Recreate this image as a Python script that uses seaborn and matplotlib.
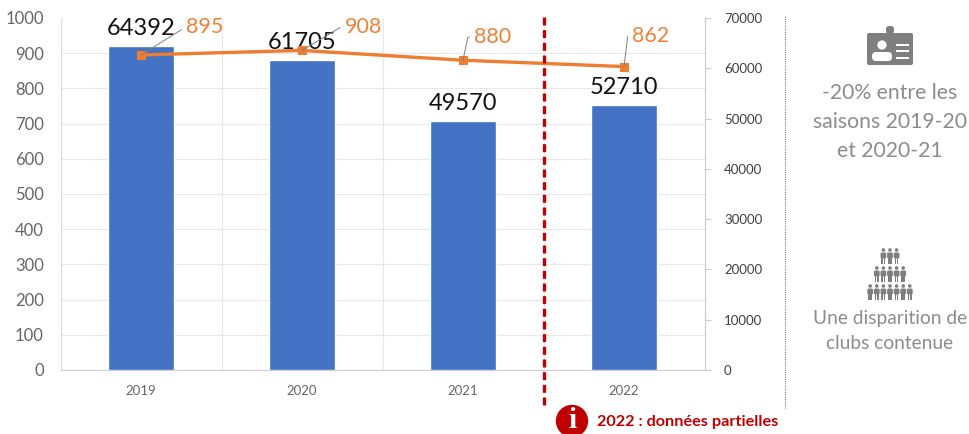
import matplotlib
matplotlib.use("Agg")
import matplotlib.pyplot as plt
import seaborn as sns
from matplotlib.patches import Circle, FancyBboxPatch, Rectangle
from matplotlib.ticker import MultipleLocator

sns.set_theme(style="white")
plt.rcParams['font.family'] = ['Lato', 'DejaVu Sans']

years = ["2019", "2020", "2021", "2022"]
licences = [64392, 61705, 49570, 52710]
clubs = [895, 908, 880, 862]

BLUE = "#4472C4"
ORANGE = "#ED7D31"
RED = "#C00000"
GREY = "#7F7F7F"
TEXT_GREY = "#8C8C8C"
GRID = "#E8E8E8"

W, H = 969, 434
fig = plt.figure(figsize=(W / 100, H / 100), dpi=100)
ax = fig.add_axes([60.5 / W, 1 - 370 / H, 644 / W, 352 / H])

# bars are read on the right axis
sns.barplot(x=years, y=licences, color=BLUE, saturation=1, width=0.41, ax=ax, zorder=3)
ax.set_xlim(-0.5, 3.5)
ax.set_ylim(0, 70000)
ax.set_yticks(range(0, 70001, 10000))
ax.yaxis.set_minor_locator(MultipleLocator(7000))
ax.xaxis.set_minor_locator(MultipleLocator(0.5))
ax.grid(which="minor", color=GRID, lw=0.8)
ax.set_axisbelow(True)
ax.tick_params(axis="x", which="both", length=0, pad=10.5, labelsize=9.5, labelcolor="#666666")
ax.spines["top"].set_visible(False)
ax.spines["left"].set_color("#DDDDDD")
ax.spines["left"].set_linewidth(0.8)
for side in ["bottom", "right"]:
    ax.spines[side].set_color("#CCCCCC")
    ax.spines[side].set_linewidth(0.8)
ax.bar_label(ax.containers[0], padding=5, fontsize=17, color="#111111")

# line is read on the left axis
ax2 = ax.twinx()
sns.lineplot(x=years, y=clubs, color=ORANGE, lw=2.4, marker="s", markersize=6,
             markeredgecolor=ORANGE, sort=False, ax=ax2)
ax2.set_ylim(0, 1000)
ax2.set_ylabel("")
ax2.set_yticks(range(0, 1001, 100))
ax2.grid(False)
for spine in ax2.spines.values():
    spine.set_visible(False)

# twinx moves the ticks, so place both sides only now
ax.yaxis.tick_right()
ax.tick_params(axis="y", which="major", left=False, right=True, length=4, width=0.8,
               color="#CCCCCC", pad=10, labelsize=9.5, labelcolor="#404040")
ax.tick_params(axis="y", which="minor", left=False, right=False, length=0)
ax2.yaxis.tick_left()
ax2.tick_params(axis="y", left=False, right=False, length=0, pad=12, labelsize=12,
                labelcolor="#666666")

label_offsets = [(45, 28), (43, 23), (11, 23), (8, 31)]
leader_angles = [32, 31, 78, 83]
for i, v in enumerate(clubs):
    ax2.annotate(str(v), xy=(i, v), xytext=label_offsets[i], textcoords="offset pixels",
                 fontsize=15.5, color="#F0813A", va="center", ha="left",
                 arrowprops=dict(arrowstyle="-", color=GREY, lw=0.7, shrinkA=1, shrinkB=0,
                                 relpos=(0, 0.5),
                                 connectionstyle=f"angle,angleA=0,angleB={leader_angles[i]},rad=0"))

# overlay in pixel coordinates for the annotations and icons
ov = fig.add_axes([0, 0, 1, 1], zorder=5)
ov.set_xlim(0, W)
ov.set_ylim(H, 0)
ov.axis("off")

ov.plot([544, 544], [17, 408], color=RED, lw=2.4, ls=(0, (2.4, 1.4)))
ov.plot([785, 785], [16, 408], color=GREY, lw=0.8, ls=(0, (1, 1)))

ov.add_patch(Circle((572, 421), 15.5, color=RED, clip_on=True))
ov.text(572, 421, "i", color="white", fontsize=21, fontweight="bold", ha="center", va="center",
        family=["Liberation Serif", "DejaVu Serif"])
ov.text(597, 422, "2022 : données partielles", color=RED, fontsize=11.7, fontweight="bold",
        va="center", ha="left")

ov.text(890, 122, "-20% entre les\nsaisons 2019-20\net 2020-21", color=TEXT_GREY, fontsize=15.2,
        ha="center", va="center", linespacing=1.55)
ov.text(890, 331, "Une disparition de\nclubs contenue", color=TEXT_GREY, fontsize=13.8,
        ha="center", va="center", linespacing=1.55)

# badge icon
ov.add_patch(FancyBboxPatch((867, 33), 46, 32, boxstyle="round,pad=0,rounding_size=2", color=GREY, lw=0))
ov.add_patch(FancyBboxPatch((886, 26), 8, 8, boxstyle="round,pad=0,rounding_size=3", color=GREY, lw=0))
ov.add_patch(Circle((882, 45), 4.6, color="white", lw=0))
ov.add_patch(FancyBboxPatch((872, 52), 20, 9, boxstyle="round,pad=0,rounding_size=4", color="white", lw=0))
for y in [44, 50, 57]:
    ov.add_patch(Rectangle((896, y), 13, 2, color="white", lw=0))


def person(x, y):
    ov.add_patch(Circle((x, y + 2), 1.8, color=GREY, lw=0))
    ov.add_patch(FancyBboxPatch((x - 2.9, y + 4.5), 5.8, 6, boxstyle="round,pad=0,rounding_size=1.5",
                                color=GREY, lw=0))
    ov.add_patch(Rectangle((x - 1.9, y + 10), 1.6, 6, color=GREY, lw=0))
    ov.add_patch(Rectangle((x + 0.3, y + 10), 1.6, 6, color=GREY, lw=0))


# people pyramid icon
for row, count in enumerate([3, 5, 7]):
    for k in range(count):
        person(890 + (k - (count - 1) / 2) * 6.6, 248 + row * 18)

fig.savefig("out.png", dpi=100)
